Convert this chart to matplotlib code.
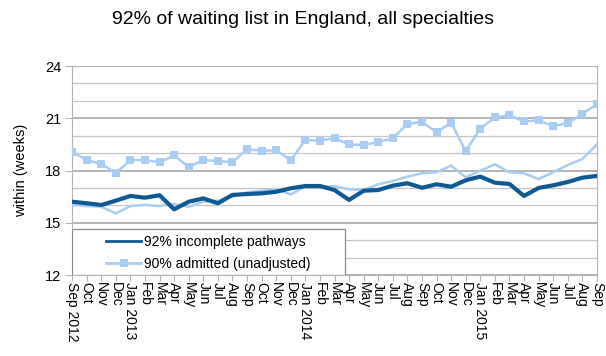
import matplotlib
matplotlib.use('Agg')
import matplotlib.pyplot as plt
from matplotlib.patches import Rectangle
from matplotlib.ticker import MultipleLocator

plt.rcParams['font.family'] = ['Liberation Sans', 'DejaVu Sans']

# monthly, Sep 2012 .. Sep 2015
month_labels = ['Sep 2012', 'Oct', 'Nov', 'Dec', 'Jan 2013', 'Feb', 'Mar', 'Apr', 'May', 'Jun', 'Jul', 'Aug',
                'Sep', 'Oct', 'Nov', 'Dec', 'Jan 2014', 'Feb', 'Mar', 'Apr', 'May', 'Jun', 'Jul', 'Aug',
                'Sep', 'Oct', 'Nov', 'Dec', 'Jan 2015', 'Feb', 'Mar', 'Apr', 'May', 'Jun', 'Jul', 'Aug', 'Sep']

incomplete_92 = [16.21, 16.12, 16.02, 16.27, 16.54, 16.44, 16.58, 15.77, 16.21, 16.40, 16.12, 16.60,
                 16.65, 16.69, 16.78, 16.98, 17.11, 17.11, 16.88, 16.31, 16.84, 16.88, 17.13, 17.27,
                 17.01, 17.21, 17.07, 17.44, 17.65, 17.30, 17.23, 16.54, 17.00, 17.15, 17.34, 17.59, 17.69]

admitted_unadj_90 = [19.08, 18.60, 18.37, 17.86, 18.60, 18.60, 18.47, 18.87, 18.20, 18.60, 18.55, 18.48,
                     19.22, 19.14, 19.16, 18.60, 19.75, 19.72, 19.85, 19.50, 19.46, 19.64, 19.85, 20.67,
                     20.80, 20.19, 20.75, 19.12, 20.40, 21.05, 21.17, 20.82, 20.88, 20.54, 20.73, 21.24, 21.82]

# third series, drawn without markers and not in the legend
admitted_adj_90 = [16.02, 15.96, 15.92, 15.54, 15.96, 16.02, 15.96, 16.08, 15.92, 16.21, 16.27, 16.50,
                   16.75, 16.84, 16.92, 16.63, 17.07, 17.07, 17.10, 16.92, 16.88, 17.21, 17.40, 17.65,
                   17.84, 17.90, 18.28, 17.61, 17.99, 18.36, 17.90, 17.84, 17.51, 17.90, 18.32, 18.66, 19.50]

dark_blue = '#0f5a94'
light_blue = '#a9cdf2'
x = list(range(len(month_labels)))

fig = plt.figure(figsize=(6.06, 3.56), dpi=100)
ax = fig.add_axes([0.119, 0.2275, 0.866, 0.587])

ax.plot(x, admitted_adj_90, color=light_blue, lw=1.8, zorder=3)
ax.plot(x, admitted_unadj_90, color=light_blue, lw=1.8, marker='s', markersize=5.5,
        markeredgewidth=0, label='90% admitted (unadjusted)', zorder=4)
ax.plot(x, incomplete_92, color=dark_blue, lw=3, label='92% incomplete pathways', zorder=5)

ax.set_xlim(0, len(x) - 1)
ax.set_ylim(12, 24)
ax.yaxis.set_major_locator(MultipleLocator(3))
ax.yaxis.set_minor_locator(MultipleLocator(1))
ax.grid(True, which='major', axis='y', color='#b3b3b3', lw=1.4)
ax.grid(True, which='minor', axis='y', color='#c6c6c6', lw=0.9)
ax.set_axisbelow(True)

ax.set_xticks(x)
ax.set_xticklabels(month_labels, rotation=270, fontsize=10, va='top', ha='center')
ax.tick_params(axis='x', length=4, color='#b3b3b3', pad=1)
ax.tick_params(axis='y', which='major', length=5, color='#b3b3b3', labelsize=10.5, pad=3)
ax.tick_params(axis='y', which='minor', length=0)
for s in ax.spines.values():
    s.set_color('#b3b3b3')

ax.set_ylabel('within (weeks)', fontsize=10.5, labelpad=12)

# legend box (drawn separately so the left padding is wider than the top)
box = Rectangle((0, 0), 0.52, 0.22, transform=ax.transAxes, facecolor='white',
                edgecolor='#8c8c8c', lw=0.9, zorder=6)
ax.add_patch(box)
handles, labels = ax.get_legend_handles_labels()
leg = ax.legend(handles[::-1], labels[::-1], loc='center left', bbox_to_anchor=(0.065, 0.105),
                fontsize=10, handlelength=2.5, handletextpad=0.2, numpoints=1,
                frameon=False, borderaxespad=0, borderpad=0, labelspacing=0.55)
leg.set_zorder(7)
for line in leg.get_lines():
    line.set_linewidth(2)

fig.text(0.5, 0.944, '92% of waiting list in England, all specialties', ha='center', va='center', fontsize=14)

fig.savefig('out.png', dpi=100)
